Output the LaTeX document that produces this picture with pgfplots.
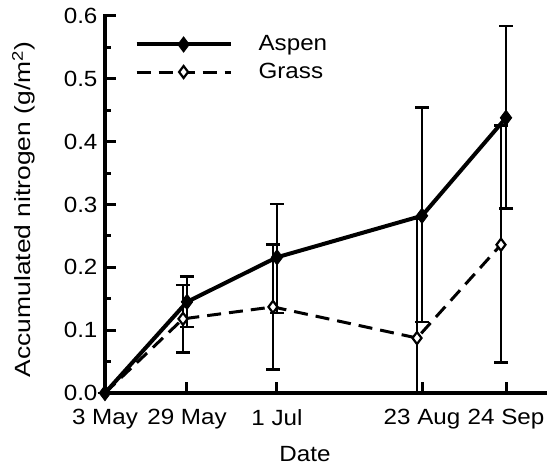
\documentclass[border=0pt]{standalone}
\usepackage{pgfplots}
\pgfplotsset{compat=1.18}
\usepackage{fontspec}
\setmainfont{Liberation Sans}[FakeStretch=1.1]
\newfontfamily\widefont{Liberation Sans}[FakeStretch=1.2]

\begin{document}
\fontsize{22pt}{26pt}\selectfont
\begin{tikzpicture}
  \begin{axis}[
    scale only axis,
    width=440pt, height=377pt,
    xmin=0, xmax=440, ymin=0, ymax=0.6,
    clip=false,
    axis x line*=bottom, axis y line*=left,
    axis line style={line width=3.2pt, line cap=rect},
    tick align=inside,
    major tick length=11pt, minor tick length=6pt,
    every tick/.style={line width=3pt, black},
    xtick={0,82,172,317,401},
    xticklabels={3 May, 29 May, 1 Jul, 23 Aug, 24 Sep},
    ytick={0,0.1,...,0.6},
    minor y tick num=1,
    yticklabel style={/pgf/number format/.cd, fixed, fixed zerofill, precision=1, assume math mode=true},
    xticklabel style={yshift=-9pt},
    xlabel={Date},
    ylabel={\widefont Accumulated nitrogen (g/m\textsuperscript{2})},
    xlabel style={yshift=-2pt, xshift=-20pt},
    ylabel style={yshift=14pt, xshift=-5pt},
    legend style={at={(rel axis cs:0.06,0.96)}, anchor=north west, draw=none, fill=none,
      row sep=5pt, column sep=24pt},
    legend cell align=left,
    reverse legend,
    legend image code/.code={%
      \draw[mark repeat=2, mark phase=2, #1] plot coordinates {(0pt,0pt) (47pt,0pt) (94pt,0pt)};},
    error bars/y dir=both, error bars/y explicit,
    error bars/error bar style={line width=2.6pt, solid, black},
    error bars/error mark options={rotate=90, mark size=7pt, line width=2.6pt, solid, black},
  ]
  % Grass
  \addplot[black, line width=3pt, dash pattern=on 14pt off 8pt, mark=diamond*, mark size=6pt,
           mark options={solid, fill=white, line width=2.2pt}]
    table[x=x, y=y, y error plus=ep, y error minus=em] {
      x   y      ep     em
      0   0      0      0
      78  0.118  0.054  0.054
      168 0.137  0.099  0.100
      312 0.0875 0.190  0.0875
      396 0.236  0.190  0.187
    };
  \addlegendentry{Grass}
  % Aspen
  \addplot[black, line width=4pt, mark=diamond*, mark size=7.5pt,
           mark options={solid, fill=black, line width=1pt}]
    table[x=x, y=y, y error plus=ep, y error minus=em] {
      x   y      ep     em
      0   0      0      0
      82  0.145  0.040  0.040
      172 0.216  0.085  0.089
      317 0.282  0.172  0.169
      401 0.438  0.146  0.144
    };
  \addlegendentry{Aspen}
  \path (rel axis cs:-0.2386,-0.2095) rectangle (rel axis cs:1.025,1.0424);
  \end{axis}
\end{tikzpicture}
\end{document}
